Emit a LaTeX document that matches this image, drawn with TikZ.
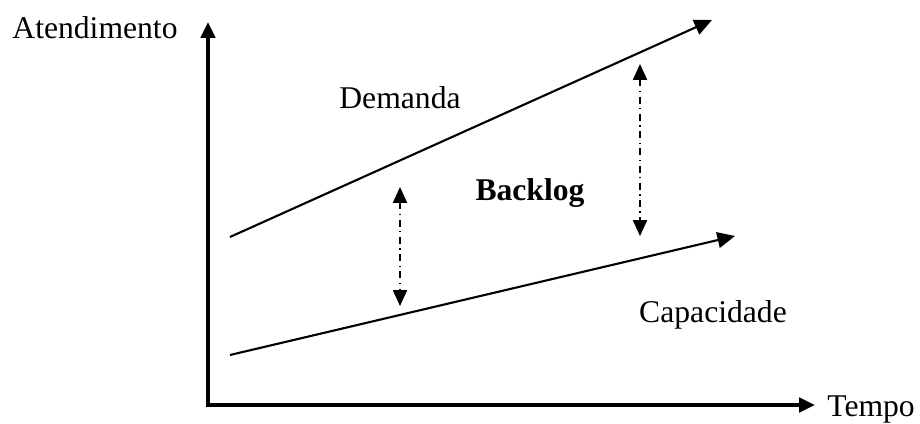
\documentclass[tikz,border=0pt]{standalone}
\usepackage{fontspec}
\setmainfont{Liberation Serif}
\usetikzlibrary{arrows.meta,positioning}

\begin{document}
\begin{tikzpicture}[
    % Define styles
    axis/.style={line width=2.3pt, -{Triangle[length=9pt, width=8pt]}},
    trend/.style={line width=1.2pt, -{Triangle[length=10pt, width=9pt]}},
    gap/.style={line width=0.9pt, dash pattern=on 4pt off 2.5pt on 0.8pt off 2.5pt,
        {Triangle[length=9pt, width=8pt]}-{Triangle[length=9pt, width=8pt]}},
    label/.style={font=\fontsize{18}{22}\selectfont, inner sep=0pt}
]
\useasboundingbox (0,0) rectangle (18.4,8.46);

% Axes
\coordinate (origin) at (4.16,0.36);
\coordinate (ytip) at (4.16,8.02);
\coordinate (xtip) at (16.3,0.36);
\draw[axis] (origin) -- (ytip);
\draw[axis] ([xshift=-1.1pt]origin) -- (xtip);
\node[label] (ylabel) at (1.9,7.9) {Atendimento};
\node[label, right=0.24cm of xtip, yshift=-0.1cm] (xlabel) {Tempo};

% Demand and capacity lines
\coordinate (dem0) at (4.6,3.72);
\coordinate (dem1) at (14.24,8.06);
\coordinate (cap0) at (4.6,1.36);
\coordinate (cap1) at (14.7,3.74);
\draw[trend] (dem0) -- (dem1);
\draw[trend] (cap0) -- (cap1);

% Backlog gaps
\coordinate (gapA1) at (8.0,4.72);
\coordinate (gapA2) at (8.0,2.34);
\coordinate (gapB1) at (12.8,7.18);
\coordinate (gapB2) at (12.8,3.74);
\draw[gap] (gapA1) -- (gapA2);
\draw[gap] (gapB1) -- (gapB2);

% Labels
\node[label] (demanda) at (8.0,6.5) {Demanda};
\node[label, font=\fontsize{18}{22}\selectfont\bfseries] (backlog) at (10.6,4.6) {Backlog};
\node[label] (capacidade) at (14.26,2.16) {Capacidade};

\end{tikzpicture}
\end{document}
